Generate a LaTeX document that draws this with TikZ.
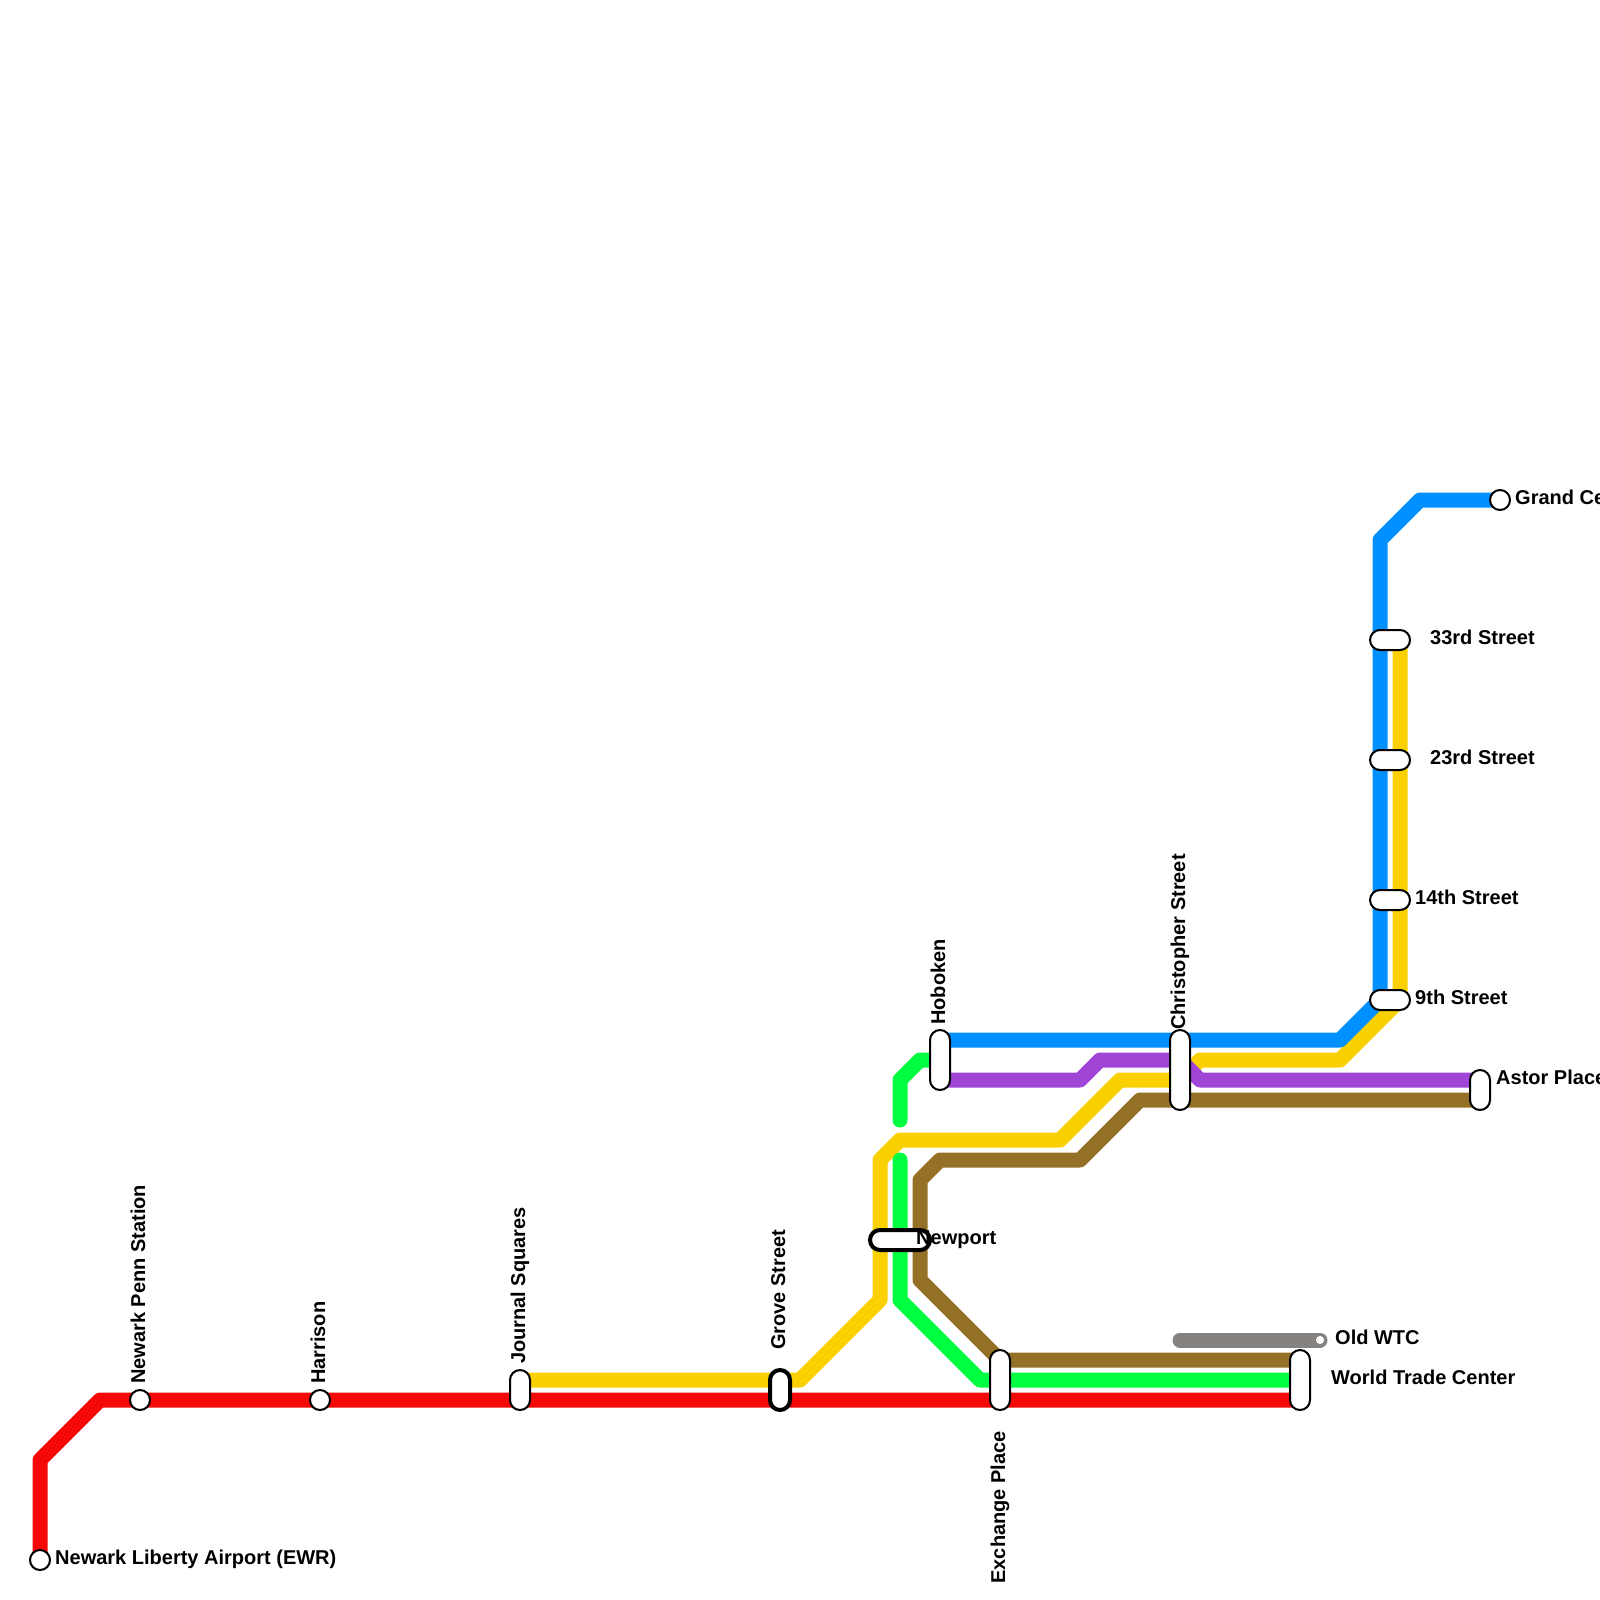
\documentclass[tikz,border=0pt]{standalone}
\usepackage{fontspec}
\setmainfont{Liberation Sans}
\usetikzlibrary{backgrounds}
\definecolor{lred}{HTML}{F40808}
\definecolor{lblue}{HTML}{0090FF}
\definecolor{lyellow}{HTML}{FBD000}
\definecolor{lgreen}{HTML}{00FF40}
\definecolor{lbrown}{HTML}{947126}
\definecolor{lpurple}{HTML}{A045D5}
\definecolor{lgrey}{HTML}{868280}
\tikzset{
  x=1pt,y=-1pt,
  line/.style={line width=15pt,line join=round,line cap=round},
  stop/.style={circle,draw=black,fill=white,line width=2pt,minimum size=20pt,inner sep=0pt},
  vcap/.style={rectangle,rounded corners=10pt,draw=black,fill=white,line width=2pt,minimum width=20pt,minimum height=#1,inner sep=0pt},
  hcap/.style={rectangle,rounded corners=10pt,draw=black,fill=white,line width=2pt,minimum height=20pt,minimum width=#1,inner sep=0pt},
  heavy/.style={line width=4pt},
  lab/.style={inner sep=0pt,anchor=base west,font=\fontsize{20}{24}\selectfont\bfseries},
  vlab/.style={lab,rotate=90},
  vlabend/.style={lab,rotate=90,anchor=base east},
}
\begin{document}
\begin{tikzpicture}
\path[clip] (0,0) rectangle (1600,1600);
% stations
\node[stop] (ewr) at (40,1560) {};
\node[stop] (penn) at (140,1400) {};
\node[stop] (harrison) at (320,1400) {};
\node[vcap=40pt] (journal) at (520,1390) {};
\node[vcap=40pt,heavy] (grove) at (780,1390) {};
\node[hcap=60pt,heavy] (newport) at (900,1240) {};
\node[vcap=60pt] (hoboken) at (940,1060) {};
\node[vcap=60pt] (exchange) at (1000,1380) {};
\node[vcap=80pt] (christopher) at (1180,1070) {};
\node[vcap=60pt] (wtc) at (1300,1380) {};
\node[circle,fill=white,minimum size=8pt,inner sep=0pt] (oldwtc) at (1320,1340) {};
\node[vcap=40pt] (astor) at (1480,1090) {};
\node[hcap=40pt] (ninth) at (1390,1000) {};
\node[hcap=40pt] (fourteenth) at (1390,900) {};
\node[hcap=40pt] (twentythird) at (1390,760) {};
\node[hcap=40pt] (thirtythird) at (1390,640) {};
\node[stop] (grand) at (1500,500) {};
% free line ends
\coordinate (redend) at (1300,1400);
\coordinate (yellowstart) at (520,1380);
\coordinate (yellowend) at (1400,640);
\coordinate (bluestart) at (940,1040);
\coordinate (purplestart) at (940,1080);
\coordinate (purpleend) at (1480,1080);
\coordinate (brownstart) at (1480,1100);
\coordinate (brownend) at (1300,1360);
\coordinate (greenAstart) at (940,1060);
\coordinate (greenAend) at (900,1120);
\coordinate (greenBstart) at (900,1160);
\coordinate (greenBend) at (1300,1380);
\coordinate (greystart) at (1180,1340);
% lines
\begin{scope}[on background layer]
\fill[white] (0,0) rectangle (1600,1600);
\draw[line,lred] (ewr.center) -- (40,1460) -- (100,1400) -- (redend);
\draw[line,lyellow] (yellowstart) -- (800,1380) -- (880,1300) -- (880,1160) -- (900,1140) -- (1060,1140) -- (1120,1080) -- (1180,1080) -- (1200,1060) -- (1340,1060) -- (1400,1000) -- (yellowend);
\draw[line,lblue] (bluestart) -- (1340,1040) -- (1380,1000) -- (1380,540) -- (1420,500) -- (grand.center);
\draw[line,lgreen] (greenAstart) -- (920,1060) -- (900,1080) -- (greenAend);
\draw[line,lgreen] (greenBstart) -- (900,1300) -- (980,1380) -- (greenBend);
\draw[line,lbrown] (brownstart) -- (1140,1100) -- (1080,1160) -- (940,1160) -- (920,1180) -- (920,1280) -- (1000,1360) -- (brownend);
\draw[line,lpurple] (purplestart) -- (1080,1080) -- (1100,1060) -- (1180,1060) -- (1200,1080) -- (purpleend);
\draw[line,lgrey] (greystart) -- (oldwtc.center);
\end{scope}
% labels
\node[lab] (lewr) at (55,1564.5) {Newark Liberty Airport (EWR)};
\node[vlab] (lpenn) at (145,1384) {Newark Penn Station};
\node[vlab] (lharrison) at (325,1384) {Harrison};
\node[vlab] (ljournal) at (525,1364) {Journal Squares};
\node[vlab] (lgrove) at (785,1350) {Grove Street};
\node[lab] (lnewport) at (916,1244.5) {Newport};
\node[vlab] (lhoboken) at (945,1025) {Hoboken};
\node[vlabend] (lexchange) at (1005,1431) {Exchange Place};
\node[vlab] (lchristopher) at (1185,1030) {Christopher Street};
\node[lab] (lwtc) at (1331,1384.5) {World Trade Center};
\node[lab] (lold) at (1335,1344.5) {Old WTC};
\node[lab] (lastor) at (1496,1084.5) {Astor Place};
\node[lab] (lninth) at (1415,1004.5) {9th Street};
\node[lab] (lfourteenth) at (1415,904.5) {14th Street};
\node[lab] (ltwentythird) at (1430,764.5) {23rd Street};
\node[lab] (lthirtythird) at (1430,644.5) {33rd Street};
\node[lab] (lgrand) at (1515,504.5) {Grand Central};
\end{tikzpicture}
\end{document}
